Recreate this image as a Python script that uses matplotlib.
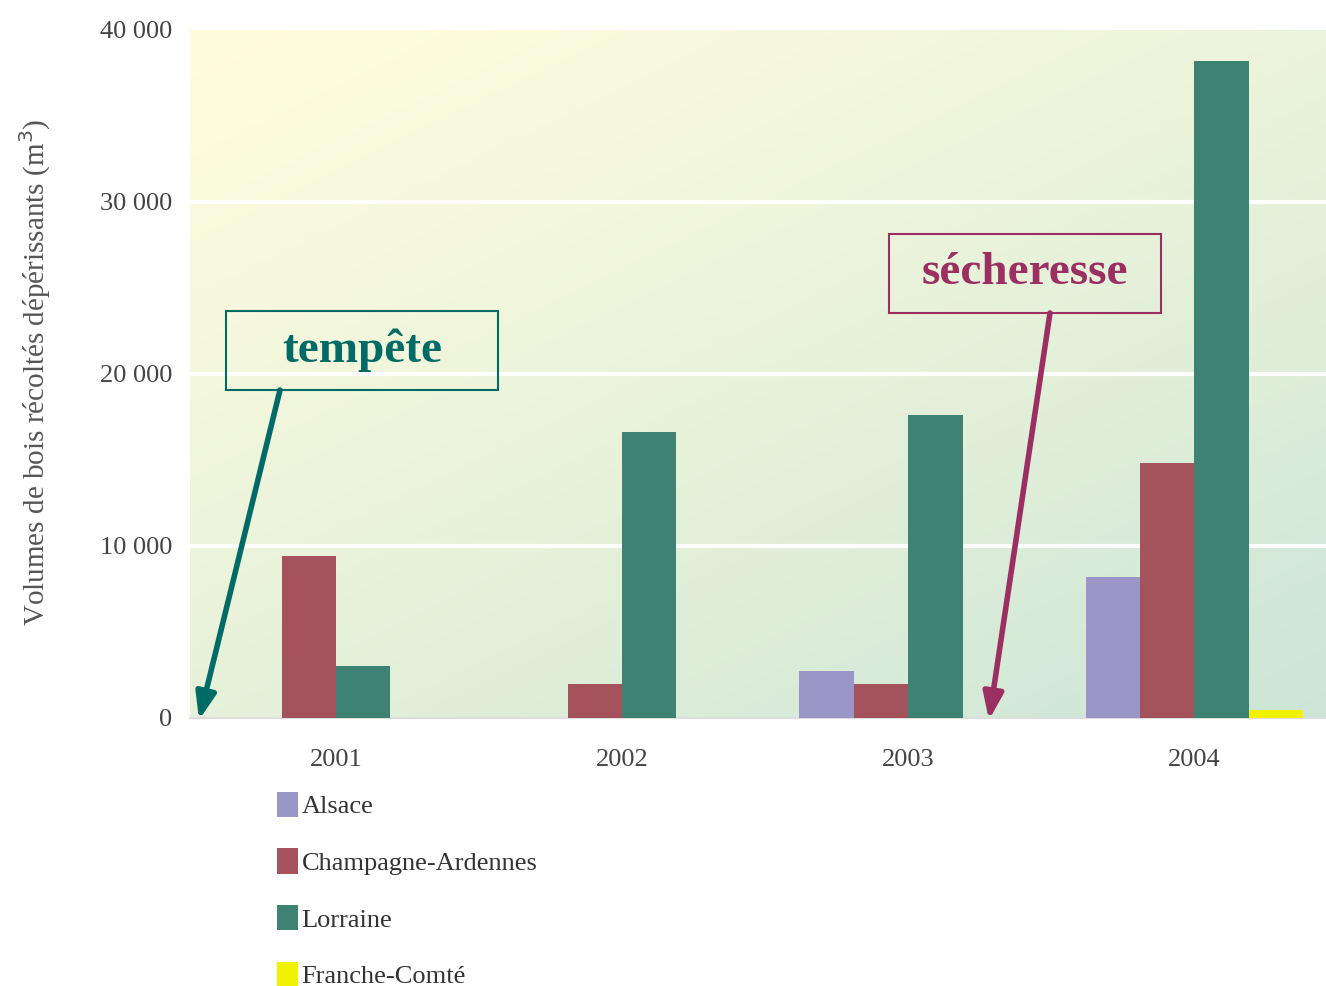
import numpy as np
import matplotlib
matplotlib.use("Agg")
import matplotlib.pyplot as plt
from matplotlib.patches import Rectangle, FancyArrowPatch

plt.rcParams['font.family'] = ['Liberation Serif', 'DejaVu Serif']

years = ['2001', '2002', '2003', '2004']
regions = ['Alsace', 'Champagne-Ardennes', 'Lorraine', 'Franche-Comté']
alsace = [0, 0, 2750, 8200]
champagne = [9400, 2000, 2000, 14850]
lorraine = [3000, 16600, 17600, 38200]
franche_comte = [0, 0, 0, 450]
colors = ['#9b96c8', '#a4525c', '#3e8273', '#f2f200']

yticks = [0, 10000, 20000, 30000, 40000]
ytick_labels = ['0', '10 000', '20 000', '30 000', '40 000']

W, H = 1326, 986
fig = plt.figure(figsize=(W / 100, H / 100), dpi=100)
ax = fig.add_axes([190 / W, 1 - 718 / H, 1 - 190 / W, (718 - 30) / H])

# diagonal gradient background
xx, yy = np.meshgrid(np.linspace(0, 1, 200), np.linspace(0, 1, 200))
t = np.clip((xx * 0.6 + yy * 0.75) / 1.35, 0, 1)[..., None] ** 1.2
c0 = np.array([1.0, 0.99, 0.87])
c1 = np.array([0.80, 0.90, 0.84])
grad = c0 * (1 - t) + c1 * t
ax.imshow(grad, extent=[0, 1, 0, 1], transform=ax.transAxes, aspect='auto',
          zorder=0, origin='upper')

x = np.arange(len(years))
w = 0.19
series = [alsace, champagne, lorraine, franche_comte]
handles = []
for i, (vals, col) in enumerate(zip(series, colors)):
    b = ax.bar(x + (i - 1.5) * w, vals, w, color=col, zorder=3, label=regions[i])
    handles.append(b)

ax.set_xlim(-0.51, 3.46)
ax.set_ylim(0, 40000)
ax.set_yticks(yticks)
ax.set_yticklabels(ytick_labels)
ax.set_xticks(x)
ax.set_xticklabels(years)
ax.tick_params(length=0, labelsize=19, colors='#444444')
ax.tick_params(axis='y', pad=13)
ax.tick_params(axis='x', pad=22)
for y in yticks[1:4]:
    ax.axhline(y, color='white', lw=3, zorder=1)
for s in ['top', 'right', 'left']:
    ax.spines[s].set_visible(False)
ax.spines['bottom'].set_color('#dddddd')
ax.spines['bottom'].set_linewidth(1.5)

fig.text(35 / W, 1 - 372 / H, 'Volumes de bois récoltés dépérissants (m$^3$)',
         rotation=90, ha='center', va='center', fontsize=21, color='#555555')

leg = ax.legend(handles=handles, loc='upper left', bbox_to_anchor=(266 / W, 1 - 781 / H),
                bbox_transform=fig.transFigure, frameon=False, fontsize=19,
                handlelength=0.8, handleheight=1.1, handletextpad=0.15,
                labelspacing=1.14, borderaxespad=0)
for txt in leg.get_texts():
    txt.set_color('#333333')

# annotation boxes
def box(x0, y0, x1, y1, txt, col):
    fig.patches.append(Rectangle((x0 / W, 1 - y1 / H), (x1 - x0) / W, (y1 - y0) / H,
                                 transform=fig.transFigure, fill=False,
                                 edgecolor=col, lw=1.5, zorder=5))
    fig.text((x0 + x1) / 2 / W, 1 - (y0 + y1) / 2 / H, txt, ha='center', va='center',
             fontsize=34, fontweight='bold', color=col, zorder=6)

def arrow(xa, ya, xb, yb, col):
    fig.patches.append(FancyArrowPatch((xa / W, 1 - ya / H), (xb / W, 1 - yb / H),
                                       transform=fig.transFigure, color=col,
                                       arrowstyle='-|>,head_length=16,head_width=6',
                                       lw=4, zorder=6, shrinkA=0, shrinkB=0))

box(226, 311, 498, 390, 'tempête', '#006b66')
arrow(280, 390, 199, 720, '#006b66')
box(889, 234, 1161, 313, 'sécheresse', '#9b2f62')
arrow(1050, 313, 989, 720, '#9b2f62')

fig.savefig('out.png', dpi=100)
